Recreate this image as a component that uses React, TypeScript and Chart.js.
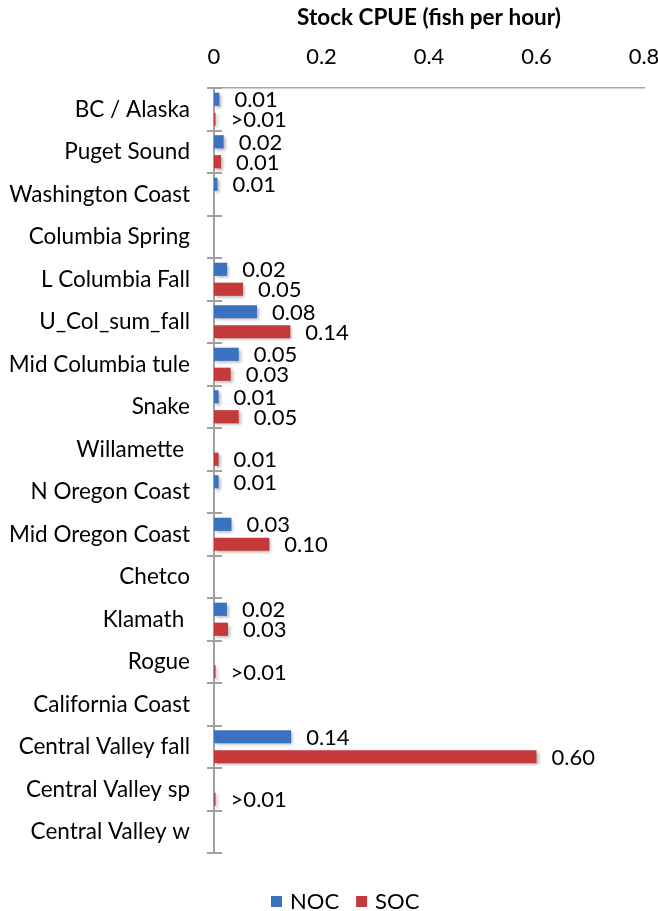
import React, { useEffect, useRef } from "react";
import { Chart, registerables } from "chart.js";

Chart.register(...registerables);

const categories = [
  "BC / Alaska",
  "Puget Sound",
  "Washington Coast",
  "Columbia Spring",
  "L Columbia Fall",
  "U_Col_sum_fall",
  "Mid Columbia tule",
  "Snake",
  "Willamette ",
  "N Oregon Coast",
  "Mid Oregon Coast",
  "Chetco",
  "Klamath ",
  "Rogue",
  "California Coast",
  "Central Valley fall",
  "Central Valley sp",
  "Central Valley w",
];

const nocValues = [0.010, 0.018, 0.0065, null, 0.0245, 0.080, 0.046, 0.0085, null, 0.0085, 0.0325, null, 0.024, null, null, 0.1435, null, null];
const socValues = [0.003, 0.013, null, null, 0.054, 0.142, 0.031, 0.046, 0.0085, null, 0.103, null, 0.026, 0.003, null, 0.600, 0.003, null];

const nocLabels = ["0.01", "0.02", "0.01", "", "0.02", "0.08", "0.05", "0.01", "", "0.01", "0.03", "", "0.02", "", "", "0.14", "", ""];
const socLabels = [">0.01", "0.01", "", "", "0.05", "0.14", "0.03", "0.05", "0.01", "", "0.10", "", "0.03", ">0.01", "", "0.60", ">0.01", ""];

const seriesNames = ["NOC", "SOC"];
const xTicksMin = 0;
const xTicksMax = 0.8;
const xTickStep = 0.2;
const axisTitle = "Stock CPUE (fish per hour)";

const BLUE = "#3A72C0";
const RED = "#C43A3A";
const GRAY = "#A0A0A0";
const FONT = "Lato, 'Liberation Sans', sans-serif";

const overlayPlugin = {
  id: "overlay",
  beforeDatasetsDraw(chart: any) {
    const ctx = chart.ctx;
    ctx.save();
    ctx.shadowColor = "rgba(0,0,0,0.28)";
    ctx.shadowBlur = 3;
    ctx.shadowOffsetX = 2;
    ctx.shadowOffsetY = 2;
  },
  afterDatasetsDraw(chart: any) {
    const ctx = chart.ctx;
    ctx.restore();
    const yScale = chart.scales.y;
    const area = chart.chartArea;
    // y tick marks crossing the axis at category boundaries
    ctx.save();
    ctx.strokeStyle = GRAY;
    ctx.lineWidth = 2;
    for (let i = 0; i <= categories.length; i++) {
      const y = Math.round(yScale.getPixelForValue(i - 0.5));
      ctx.beginPath();
      ctx.moveTo(area.left - 7, y);
      ctx.lineTo(area.left + 8, y);
      ctx.stroke();
    }
    ctx.restore();
    // data labels
    const labelSets = [nocLabels, socLabels];
    ctx.save();
    ctx.fillStyle = "#000";
    ctx.font = `22px ${FONT}`;
    ctx.textAlign = "left";
    ctx.textBaseline = "middle";
    chart.data.datasets.forEach((_: any, di: number) => {
      const meta = chart.getDatasetMeta(di);
      meta.data.forEach((el: any, i: number) => {
        const txt = labelSets[di][i];
        if (!txt) return;
        ctx.fillText(txt, el.x + 15, el.y + 1);
      });
    });
    ctx.restore();
    // legend
    ctx.save();
    ctx.font = `22px ${FONT}`;
    ctx.textBaseline = "middle";
    ctx.textAlign = "left";
    const colors = [BLUE, RED];
    let x = 271;
    const yc = 902;
    seriesNames.forEach((name, i) => {
      ctx.fillStyle = colors[i];
      ctx.fillRect(x, yc - 6, 11, 11);
      x += 11 + 8;
      ctx.fillStyle = "#000";
      ctx.fillText(name, x, yc);
      x += ctx.measureText(name).width + 17;
    });
    ctx.restore();
  },
};

export default function App() {
  const ref = useRef<HTMLCanvasElement | null>(null);
  useEffect(() => {
    document.body.style.margin = "0";
    const canvas = ref.current;
    if (!canvas) return;
    const chart = new Chart(canvas, {
      type: "bar",
      data: {
        labels: categories,
        datasets: [
          {
            label: seriesNames[0],
            data: nocValues,
            backgroundColor: BLUE,
            categoryPercentage: 0.94,
            barPercentage: 0.66,
          },
          {
            label: seriesNames[1],
            data: socValues,
            backgroundColor: RED,
            categoryPercentage: 0.94,
            barPercentage: 0.66,
          },
        ],
      } as any,
      options: {
        indexAxis: "y",
        responsive: false,
        animation: false,
        layout: { padding: { left: 0, right: 0, top: 0, bottom: 58 } },
        plugins: {
          legend: { display: false },
          tooltip: { enabled: false },
        },
        scales: {
          x: {
            position: "top",
            min: xTicksMin,
            max: xTicksMax,
            ticks: {
              stepSize: xTickStep,
              padding: 18,
              color: "#000",
              font: { family: FONT, size: 22 },
            },
            grid: { display: false, drawTicks: false },
            border: { display: true, color: "#A6A6A6", width: 1.5 },
            title: {
              display: true,
              text: axisTitle,
              color: "#000",
              font: { family: FONT, size: 22.5, weight: "bold" },
              padding: { top: 4, bottom: 0 },
            },
            afterFit: (s: any) => {
              s.height = 88;
              s.paddingRight = 14;
            },
          },
          y: {
            ticks: {
              padding: 24,
              color: "#000",
              autoSkip: false,
              font: { family: FONT, size: 22.5 },
            },
            grid: { display: false, drawTicks: false },
            border: { display: true, color: GRAY, width: 2 },
            afterFit: (s: any) => {
              s.width = 214;
            },
          },
        },
      } as any,
      plugins: [overlayPlugin],
    });
    return () => chart.destroy();
  }, []);
  return (
    <div style={{ width: 658, height: 911 }}>
      <canvas ref={ref} width={658} height={911} style={{ display: "block" }} />
    </div>
  );
}
